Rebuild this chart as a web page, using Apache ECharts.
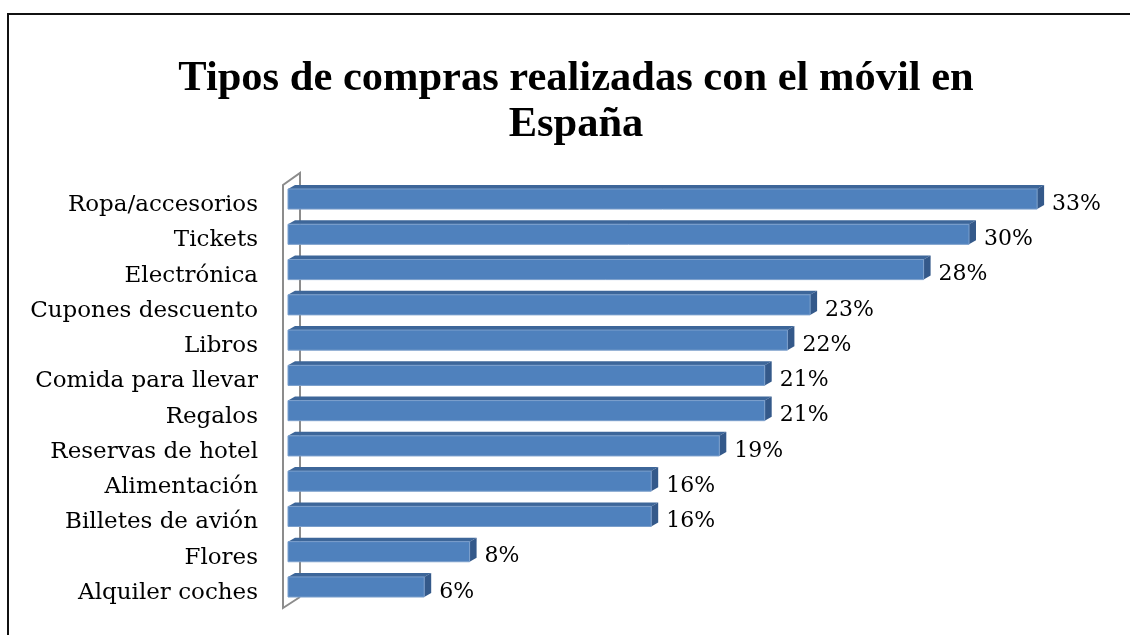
<!DOCTYPE html>
<html>
<head>
<meta charset="UTF-8">
<title>Tipos de compras realizadas con el móvil en España</title>
<script src="https://cdn.jsdelivr.net/npm/echarts@6/dist/echarts.min.js"></script>
<style>
  html, body { margin: 0; padding: 0; background: #fff; }
  #chart { width: 1130px; height: 635px; }
</style>
</head>
<body>
<div id="chart"></div>
<script>
// datos
var categories = ['Ropa/accesorios', 'Tickets', 'Electrónica', 'Cupones descuento', 'Libros',
  'Comida para llevar', 'Regalos', 'Reservas de hotel', 'Alimentación', 'Billetes de avión',
  'Flores', 'Alquiler coches'];
var values = [33, 30, 28, 23, 22, 21, 21, 19, 16, 16, 8, 6];

var chart = echarts.init(document.getElementById('chart'));

// barra 3D: cara frontal, cara superior, lateral y etiqueta
function renderBar(params, api) {
  var v = api.value(1);
  var p0 = api.coord([0, api.value(0)]);
  var p1 = api.coord([v, api.value(0)]);
  var band = api.size([0, 1])[1];
  var h = band * 0.57;
  var x0 = p0[0], x1 = p1[0];
  var yt = p0[1] - h / 2, yb = p0[1] + h / 2;
  var dx = 7, dy = 4;
  return {
    type: 'group',
    children: [
      { type: 'polygon', shape: { points: [[x0, yt], [x0 + dx, yt - dy], [x1 + dx, yt - dy], [x1, yt]] },
        style: { fill: '#3d6699' } },
      { type: 'polygon', shape: { points: [[x1, yt], [x1 + dx, yt - dy], [x1 + dx, yb - dy], [x1, yb]] },
        style: { fill: '#34598a' } },
      { type: 'rect', shape: { x: x0, y: yt, width: x1 - x0, height: h },
        style: { fill: '#4f81bd', stroke: '#7b9fcc', lineWidth: 1 } },
      { type: 'text', x: x1 + 15, y: p0[1] + 5,
        style: { text: v + '%', fontFamily: 'DejaVu Serif', fontSize: 22, fill: '#000',
          verticalAlign: 'middle', align: 'left' } }
    ]
  };
}

chart.setOption({
  animation: false,
  title: {
    text: 'Tipos de compras realizadas con el móvil en\nEspaña',
    left: 571,
    top: 51,
    textAlign: 'center',
    textStyle: {
      fontFamily: '"Liberation Serif", "Times New Roman", Times, serif',
      fontWeight: 'bold',
      fontSize: 42.5,
      lineHeight: 46,
      color: '#000'
    }
  },
  graphic: [
    { type: 'rect', shape: { x: 8, y: 14, width: 1200, height: 700 },
      style: { fill: 'none', stroke: '#111', lineWidth: 2 } },
    { type: 'polyline', shape: { points: [[300, 597], [300, 173], [283, 185], [283, 608], [300, 597]] },
      style: { fill: 'none', stroke: '#8c8c8c', lineWidth: 2 } }
  ],
  grid: {
    left: 288,
    top: 181.4,
    width: 794.5,
    height: 423.2
  },
  xAxis: {
    type: 'value',
    min: 0,
    max: 35,
    show: false
  },
  yAxis: {
    type: 'category',
    data: categories,
    inverse: true,
    axisLine: { show: false },
    axisTick: { show: false },
    axisLabel: {
      margin: 30,
      fontFamily: 'DejaVu Serif',
      fontSize: 23,
      color: '#000',
      verticalAlign: 'top',
      lineHeight: 12
    }
  },
  series: [{
    type: 'custom',
    renderItem: renderBar,
    encode: { x: 1, y: 0 },
    data: values.map(function (v, i) { return [i, v]; })
  }]
});
</script>
</body>
</html>
